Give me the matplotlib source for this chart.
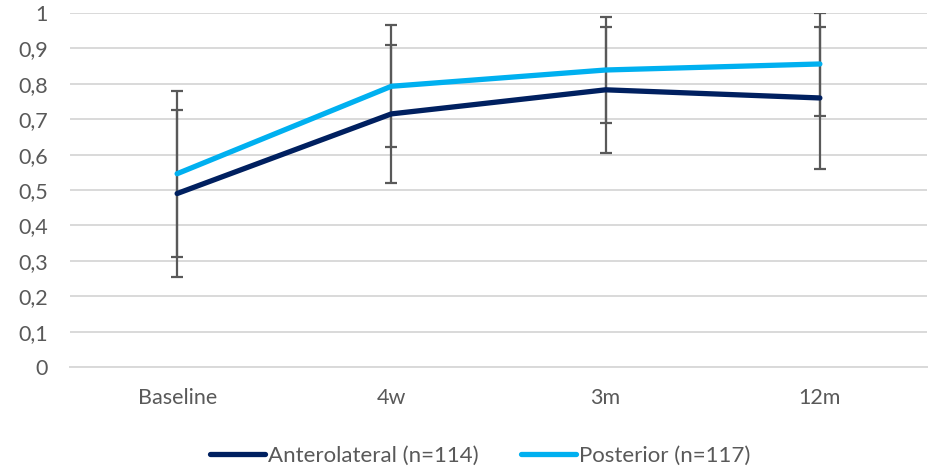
import matplotlib
matplotlib.use("Agg")
import matplotlib.pyplot as plt
import numpy as np

categories = ["Baseline", "4w", "3m", "12m"]
antero = [0.49, 0.715, 0.783, 0.76]
antero_err = [0.235, 0.195, 0.178, 0.20]
poster = [0.546, 0.793, 0.839, 0.856]
poster_err = [0.234, 0.172, 0.150, 0.147]
yticks = [0, 0.1, 0.2, 0.3, 0.4, 0.5, 0.6, 0.7, 0.8, 0.9, 1]
ytick_labels = ["0", "0,1", "0,2", "0,3", "0,4", "0,5", "0,6", "0,7", "0,8", "0,9", "1"]

plt.rcParams["font.family"] = ["Lato", "DejaVu Sans"]
text_col = "#595959"

fig = plt.figure(figsize=(9.3, 4.7), dpi=100)
ax = fig.add_axes([70 / 930, 1 - 367 / 470, 857 / 930, 354 / 470])

x = np.arange(len(categories))
navy = "#002060"
sky = "#00B0F0"

# Error bars (clipped at the axis maximum), drawn beneath the lines
for vals, errs in ((antero, antero_err), (poster, poster_err)):
    v = np.array(vals)
    e = np.array(errs)
    upper = np.minimum(v + e, 1.0) - v
    ax.errorbar(x, v, yerr=[e, upper], fmt="none", ecolor="#595959",
                elinewidth=1.6, capsize=4.5, capthick=1.6, zorder=2)

ax.plot(x, antero, color=navy, lw=3.8, solid_capstyle="round",
        solid_joinstyle="round", zorder=3, label="Anterolateral (n=114)")
ax.plot(x, poster, color=sky, lw=3.8, solid_capstyle="round",
        solid_joinstyle="round", zorder=3, label="Posterior (n=117)")

ax.set_xlim(-0.5, 3.5)
ax.set_ylim(0, 1)
ax.set_yticks(yticks)
ax.set_yticklabels(ytick_labels)
ax.set_xticks(x)
ax.set_xticklabels(categories)
ax.tick_params(axis="both", length=0, labelsize=15.5, colors=text_col)
ax.tick_params(axis="y", pad=16)
ax.tick_params(axis="x", pad=15)
ax.grid(axis="y", color="#D9D9D9", lw=1.4, zorder=0)
ax.set_axisbelow(True)
for s in ("top", "right", "left"):
    ax.spines[s].set_visible(False)
ax.spines["bottom"].set_color("#D9D9D9")
ax.spines["bottom"].set_linewidth(1.4)

leg = fig.legend(loc="center", bbox_to_anchor=(480 / 930, 1 - 456 / 470), ncol=2,
                 frameon=False, fontsize=16, handlelength=2.5,
                 handletextpad=0.12, columnspacing=1.9)
for t in leg.get_texts():
    t.set_color(text_col)

fig.savefig("out.png", dpi=100)
